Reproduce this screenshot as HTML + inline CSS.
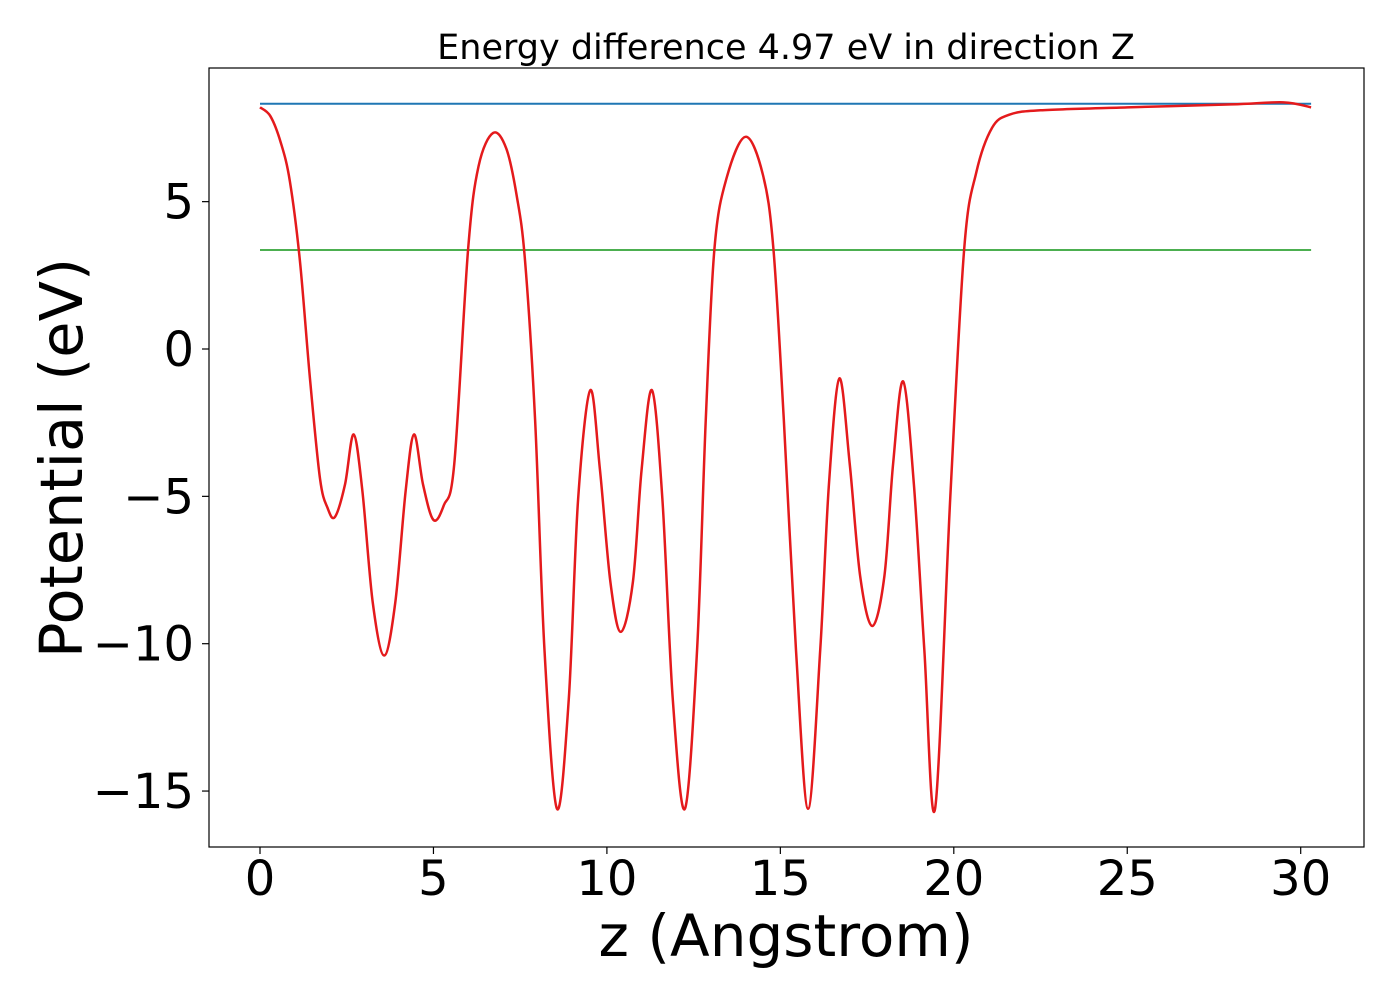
<!DOCTYPE html>
<html><head><meta charset="utf-8"><style>
body{margin:0;background:#fff;}
svg{display:block;font-family:"DejaVu Sans","Liberation Sans",sans-serif;}
</style></head><body>
<svg id="chart" width="1400" height="1000">
<text x="786" y="59" font-size="35" text-anchor="middle">Energy difference 4.97 eV in direction Z</text>
<rect x="209" y="68" width="1155" height="779" fill="none" stroke="#000" stroke-width="1.2"/>
<g id="xticks"></g>
<g id="yticks"></g>
<g id="series"></g>
<text x="786" y="956" font-size="58" text-anchor="middle">z (Angstrom)</text>
<text transform="translate(82,458) rotate(-90)" font-size="59" text-anchor="middle">Potential (eV)</text>
</svg>
<script>
const xTicks=[0,5,10,15,20,25,30];
const yTicks=[5,0,-5,-10,-15];
const vacuumLevel=8.32;
const fermiLevel=3.36;
const lineRange=[0,30.3];
const zVals=[0,0.3,0.6,0.86,1.15,1.44,1.73,1.95,2.16,2.45,2.7,2.95,3.25,3.58,3.9,4.2,4.44,4.7,5.0,5.3,5.6,6.0,6.3,6.72,7.1,7.4,7.64,7.93,8.2,8.56,8.9,9.17,9.52,9.8,10.1,10.4,10.75,11.0,11.3,11.6,11.9,12.25,12.6,12.85,13.1,13.45,14.0,14.5,14.8,15.1,15.45,15.8,16.15,16.4,16.7,17.0,17.3,17.65,18.0,18.25,18.54,18.85,19.15,19.46,19.9,20.3,20.65,21.1,21.6,22.5,25,28,29.5,30.3];
const potVals=[8.2,7.9,7.0,5.7,3.0,-1.0,-4.4,-5.4,-5.7,-4.6,-2.9,-4.8,-8.6,-10.4,-8.6,-4.8,-2.9,-4.6,-5.8,-5.3,-3.9,3.4,6.2,7.33,6.8,5.2,3.0,-2.4,-10.2,-15.6,-11.9,-5.1,-1.4,-4.1,-7.9,-9.6,-7.9,-4.1,-1.4,-5.1,-11.9,-15.6,-10.2,-2.4,3.4,5.8,7.2,5.9,3.4,-2.4,-10.2,-15.6,-10.2,-4.6,-1.0,-3.9,-7.7,-9.4,-7.7,-3.9,-1.1,-4.6,-10.2,-15.6,-5.0,3.4,6.0,7.5,7.95,8.1,8.2,8.3,8.37,8.2];
const X=z=>260+z*34.69;
const Y=v=>349-v*29.47;
const NS="http://www.w3.org/2000/svg";
function mk(tag,attrs,parent){const e=document.createElementNS(NS,tag);for(const k in attrs)e.setAttribute(k,attrs[k]);parent.appendChild(e);return e;}
const gx=document.getElementById('xticks'),gy=document.getElementById('yticks'),gs=document.getElementById('series');
xTicks.forEach(t=>{
 const l=mk('line',{x1:X(t),x2:X(t),y1:847,y2:854,stroke:'#000','stroke-width':1.2},gx);
 
 
 const tx=mk('text',{x:X(t),y:895,'font-size':48,'text-anchor':'middle'},gx);
 tx.textContent=t;
 
 
});
yTicks.forEach(t=>{
 const l=mk('line',{x1:202,x2:209,y1:Y(t),y2:Y(t),stroke:'#000','stroke-width':1.2},gy);
 
 
 const tx=mk('text',{x:194,y:Y(t)+17,'font-size':48,'text-anchor':'end'},gy);
 tx.textContent=t<0?'\u2212'+(-t):t;
 
 
});
const vl=mk('line',{x1:X(lineRange[0]),x2:X(lineRange[1]),y1:Y(vacuumLevel),y2:Y(vacuumLevel),stroke:'#1f77b4','stroke-width':2},gs);


const fl=mk('line',{x1:X(lineRange[0]),x2:X(lineRange[1]),y1:Y(fermiLevel),y2:Y(fermiLevel),stroke:'#4caf50','stroke-width':2},gs);


const P=zVals.map((z,i)=>[X(z),Y(potVals[i])]);
let d='M'+P[0][0]+','+P[0][1];
for(let i=0;i<P.length-1;i++){
 const p0=P[Math.max(0,i-1)],p1=P[i],p2=P[i+1],p3=P[Math.min(P.length-1,i+2)];
 const c1=[p1[0]+(p2[0]-p0[0])/6,p1[1]+(p2[1]-p0[1])/6];
 const c2=[p2[0]-(p3[0]-p1[0])/6,p2[1]-(p3[1]-p1[1])/6];
 d+=' C'+c1[0]+','+c1[1]+' '+c2[0]+','+c2[1]+' '+p2[0]+','+p2[1];
}
const pl=mk('path',{d:d,fill:'none',stroke:'#e41a1c','stroke-width':2.5},gs);


</script>
</body></html>
